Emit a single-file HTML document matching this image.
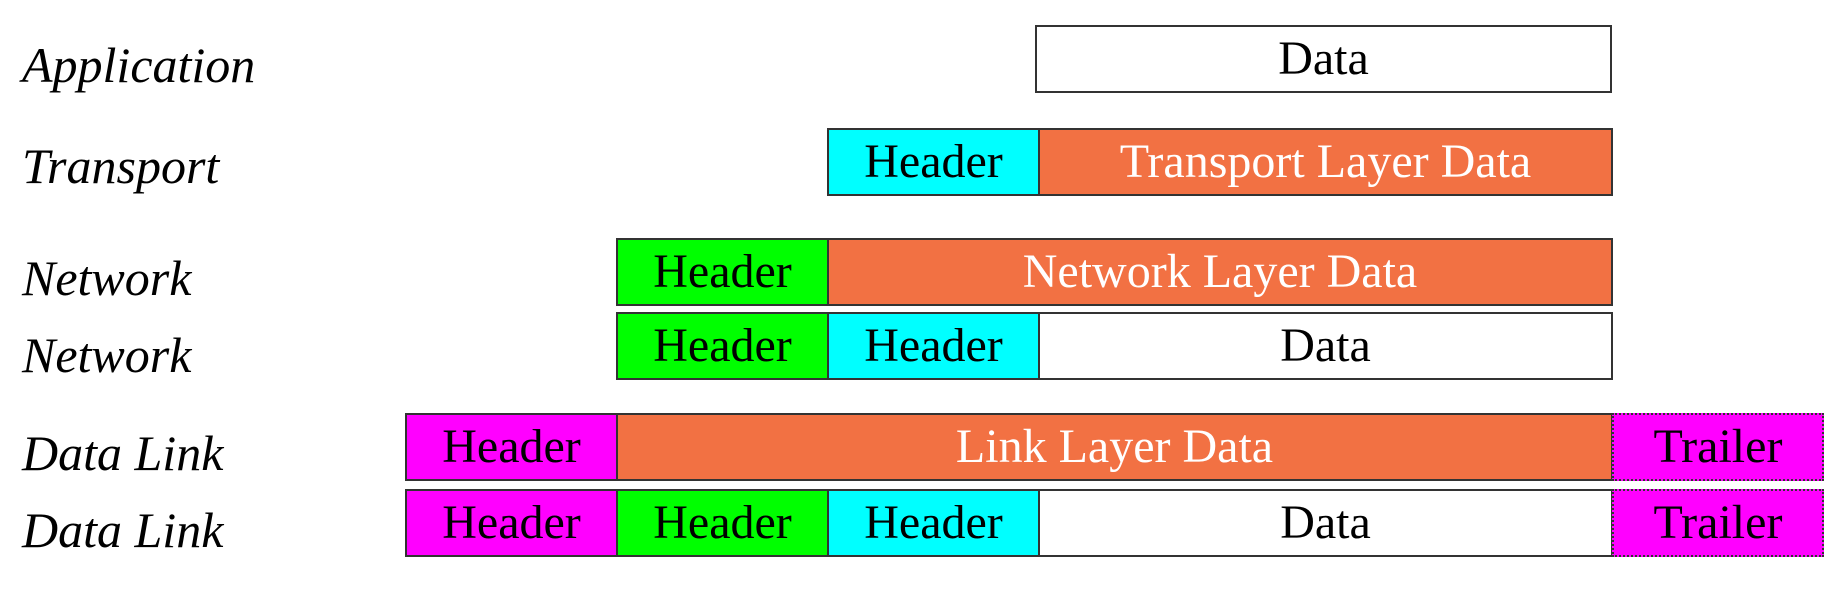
<!DOCTYPE html>
<html><head><meta charset="utf-8"><style>
html,body{margin:0;padding:0;background:#fff;}
body{width:1841px;height:598px;position:relative;overflow:hidden;font-family:"Liberation Serif",serif;}
.b{position:absolute;box-sizing:border-box;border:2px solid #333;display:flex;align-items:center;justify-content:center;font-size:48px;color:#000;line-height:1;}
.o{background:#F27143;color:#fff;}
.c{background:#00FFFF;}
.g{background:#00FF00;}
.m{background:#FF00FF;}
.w{background:#fff;}
.t{border:2px dotted #333;}
.l{position:absolute;left:22px;font-style:italic;font-size:50px;line-height:1;}
</style></head><body>
<div class="l" style="top:40px">Application</div>
<div class="l" style="top:141px">Transport</div>
<div class="l" style="top:253px">Network</div>
<div class="l" style="top:330px">Network</div>
<div class="l" style="top:428px">Data Link</div>
<div class="l" style="top:505px">Data Link</div>

<div class="b w" style="left:1035px;top:25px;width:577px;height:68px">Data</div>

<div class="b c" style="left:827px;top:128px;width:213px;height:68px">Header</div>
<div class="b o" style="left:1038px;top:128px;width:575px;height:68px">Transport Layer Data</div>

<div class="b g" style="left:616px;top:238px;width:213px;height:68px">Header</div>
<div class="b o" style="left:827px;top:238px;width:786px;height:68px">Network Layer Data</div>

<div class="b g" style="left:616px;top:312px;width:213px;height:68px">Header</div>
<div class="b c" style="left:827px;top:312px;width:213px;height:68px">Header</div>
<div class="b w" style="left:1038px;top:312px;width:575px;height:68px">Data</div>

<div class="b m" style="left:405px;top:413px;width:213px;height:68px">Header</div>
<div class="b o" style="left:616px;top:413px;width:997px;height:68px">Link Layer Data</div>
<div class="b m t" style="left:1612px;top:413px;width:212px;height:68px">Trailer</div>

<div class="b m" style="left:405px;top:489px;width:213px;height:68px">Header</div>
<div class="b g" style="left:616px;top:489px;width:213px;height:68px">Header</div>
<div class="b c" style="left:827px;top:489px;width:213px;height:68px">Header</div>
<div class="b w" style="left:1038px;top:489px;width:575px;height:68px">Data</div>
<div class="b m t" style="left:1612px;top:489px;width:212px;height:68px">Trailer</div>
</body></html>
